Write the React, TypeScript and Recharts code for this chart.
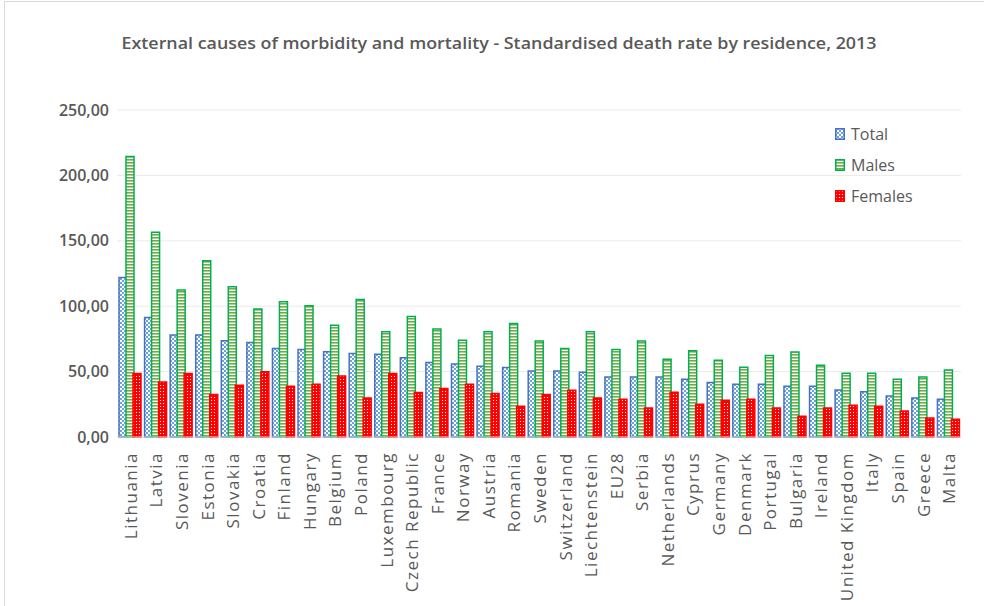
import React from 'react';
import { BarChart, Bar, XAxis, YAxis, CartesianGrid } from 'recharts';

const countries = [
  'Lithuania', 'Latvia', 'Slovenia', 'Estonia', 'Slovakia', 'Croatia', 'Finland', 'Hungary',
  'Belgium', 'Poland', 'Luxembourg', 'Czech Republic', 'France', 'Norway', 'Austria', 'Romania',
  'Sweden', 'Switzerland', 'Liechtenstein', 'EU28', 'Serbia', 'Netherlands', 'Cyprus', 'Germany',
  'Denmark', 'Portugal', 'Bulgaria', 'Ireland', 'United Kingdom', 'Italy', 'Spain', 'Greece', 'Malta',
];

const total = [
  122, 91.4, 77.9, 77.9, 73.5, 72.3, 67.7, 66.9, 65.1, 63.9, 63.3, 60.5, 57, 55.9, 54.1, 53.1, 50.5,
  50.5, 49.5, 45.9, 45.9, 45.9, 44.2, 41.6, 40.4, 40.4, 38.8, 38.8, 36, 34.5, 31.4, 29.9, 28.9,
];

const males = [
  214.4, 156.5, 112.3, 134.8, 114.9, 97.8, 103.4, 100.3, 85.5, 105.2, 80.4, 92.2, 82.5, 74, 80.4, 86.8,
  73.3, 67.7, 80.4, 66.9, 73.3, 59.5, 65.9, 58.7, 53.4, 62.3, 64.9, 54.9, 48.8, 48.8, 44.2, 45.9, 51.3,
];

const females = [
  48.5, 42.1, 48.5, 32.5, 39.6, 49.8, 38.8, 40.4, 46.7, 29.9, 48.5, 34, 37, 40.4, 33.2, 23.5, 32.5,
  35.8, 29.9, 28.9, 22.2, 34.2, 25, 28.1, 28.9, 22.2, 15.9, 22.2, 24.3, 23.5, 19.9, 14.5, 13.5,
];

const yTicks = [0, 50, 100, 150, 200, 250];

const data = countries.map((c, i) => ({
  country: c,
  Total: total[i],
  Males: males[i],
  Females: females[i],
}));

const TEXT = '#595959';
const FONT = '"Open Sans", sans-serif';

const series = [
  { key: 'Total', stroke: '#4472C4', fill: 'url(#patTotal)' },
  { key: 'Males', stroke: '#00B050', fill: 'url(#patMales)' },
  { key: 'Females', stroke: '#FF0000', fill: 'url(#patFemales)' },
];

const fmt = (v: number) => v.toFixed(2).replace('.', ',');

const CountryTick = (props: any) => {
  const { x, payload } = props;
  return (
    <text
      transform={`translate(${x + 7}, 452) rotate(-90)`}
      textAnchor="end"
      fill={TEXT}
      fontSize={17}
      fontFamily={FONT}
      letterSpacing={1.5}
    >
      {payload.value}
    </text>
  );
};

// legend drawn outside the chart so it does not eat plot space
const LegendBox = () => (
  <div style={{ position: 'absolute', left: 835, top: 118, fontFamily: FONT, fontSize: 16, color: TEXT }}>
    {series.map((s) => (
      <div key={s.key} style={{ display: 'flex', alignItems: 'center', height: 31 }}>
        <svg width={10} height={12} style={{ marginRight: 6 }}>
          <rect x={0.75} y={0.75} width={8.5} height={10.5} fill={s.fill} stroke={s.stroke} strokeWidth={1.5} />
        </svg>
        <span>{s.key}</span>
      </div>
    ))}
  </div>
);

export default function App() {
  return (
    <div style={{ position: 'absolute', left: 0, top: 0, width: 984, height: 606, background: '#fff', overflow: 'hidden' }}>
      <div style={{ position: 'absolute', left: 4, top: 1, width: 1000, height: 640, border: '1.5px solid #d9d9d9' }} />
      <svg style={{ position: 'absolute', left: 0, top: 0 }} width={984} height={70}>
        <text
          x={499}
          y={49}
          textAnchor="middle"
          fill={TEXT}
          fontSize={17}
          fontWeight={600}
          fontFamily={FONT}
          textLength={755}
          lengthAdjust="spacingAndGlyphs"
        >
          External causes of morbidity and mortality - Standardised death rate by residence, 2013
        </text>
      </svg>
      <BarChart
        width={984}
        height={606}
        data={data}
        margin={{ top: 110, right: 23, bottom: 0, left: 57 }}
        barSize={8}
        barGap={-1}
        style={{ position: 'absolute', left: 0, top: 0 }}
      >
        <defs>
          <pattern id="patTotal" width={4} height={4} patternUnits="userSpaceOnUse">
            <rect width={4} height={4} fill="#6FA0DC" />
            <rect x={0} y={0} width={2} height={2} fill="#ffffff" />
            <rect x={2} y={2} width={2} height={2} fill="#ffffff" />
          </pattern>
          <pattern id="patMales" width={3} height={3} patternUnits="userSpaceOnUse">
            <rect width={3} height={3} fill="#ffffff" />
            <rect width={3} height={1.6} fill="#70AD47" />
          </pattern>
          <pattern id="patFemales" width={3} height={3} patternUnits="userSpaceOnUse">
            <rect width={3} height={3} fill="#FF0000" />
            <rect x={1} y={1} width={1} height={1} fill="#ffffff" />
          </pattern>
        </defs>
        <CartesianGrid vertical={false} stroke="#ebebeb" />
        <XAxis
          dataKey="country"
          interval={0}
          tickLine={false}
          axisLine={{ stroke: '#d9d9d9' }}
          tick={<CountryTick />}
          height={169}
        />
        <YAxis
          domain={[0, 250]}
          ticks={yTicks}
          tickFormatter={fmt}
          tickLine={false}
          axisLine={false}
          width={60}
          tick={{ fill: TEXT, fontSize: 16, fontFamily: FONT, fontWeight: 600 }}
        />
        {series.map((s) => (
          <Bar
            key={s.key}
            dataKey={s.key}
            fill={s.fill}
            stroke={s.stroke}
            strokeWidth={1.5}
            isAnimationActive={false}
          />
        ))}
      </BarChart>
      <LegendBox />
    </div>
  );
}
